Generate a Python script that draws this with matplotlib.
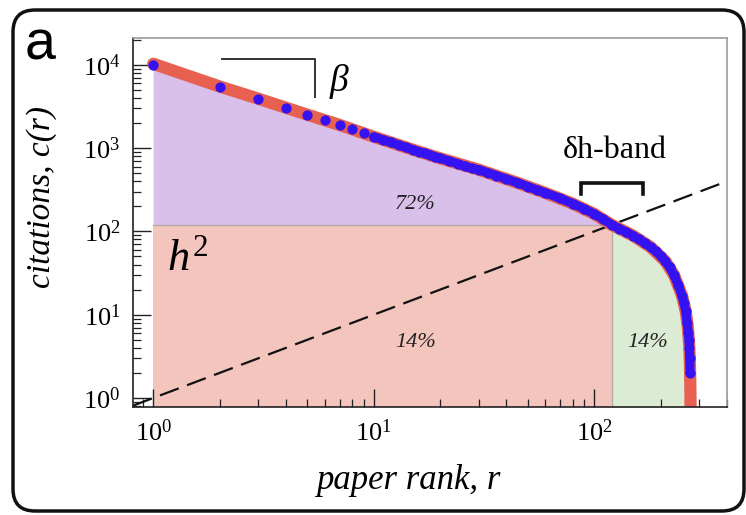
import numpy as np
import matplotlib
matplotlib.use("Agg")
import matplotlib.pyplot as plt
from matplotlib.patches import FancyBboxPatch
from matplotlib.ticker import LogLocator

plt.rcParams["font.family"] = ["Liberation Serif", "DejaVu Serif"]
plt.rcParams["mathtext.fontset"] = "custom"
plt.rcParams["mathtext.rm"] = "Liberation Serif"
plt.rcParams["mathtext.it"] = "Liberation Serif:italic"

# ranked papers and their citation counts
ranks = [1, 2, 3, 4, 5, 6, 7, 8, 9, 10,
         11, 12, 13, 14, 15, 16, 17, 18, 19, 20,
         22, 24, 26, 28, 30, 33, 36, 40, 45, 50,
         55, 60, 70, 80, 90, 100, 110, 120, 130, 140,
         150, 160, 170, 180, 190, 200, 210, 220, 230, 240,
         250, 255, 260, 264, 267, 269, 270, 271, 272]
cites = [10000, 5450, 3900, 3050, 2510, 2190, 1900, 1700, 1520, 1370,
         1260, 1170, 1090, 1020, 960, 910, 865, 825, 790, 755,
         700, 650, 605, 570, 550, 505, 468, 425, 382, 345,
         315, 290, 250, 215, 187, 162, 140, 120, 108, 98,
         89, 80, 72, 65, 58, 51, 44, 37, 30, 23,
         17, 14, 11, 8, 6, 5, 4, 3, 2]

# fitted rank-citation curve
fit_rank = [1, 2, 3, 5, 7, 10, 15, 20, 30, 45, 60, 80, 100, 120,
            150, 180, 210, 230, 250, 260, 266, 270, 272, 273, 274]
fit_cites = [10300, 5500, 3920, 2520, 1900, 1370, 960, 755, 550, 382,
             290, 215, 162, 120, 89, 65, 44, 30, 17, 11, 7, 4, 2.2, 1.2, 0.5]

h_index = 120
share_labels = ["72%", "14%", "14%"]

ranks = np.array(ranks, float)
cites = np.array(cites, float)
fit_rank = np.array(fit_rank, float)
fit_cites = np.array(fit_cites, float)

W, H = 746, 515
fig = plt.figure(figsize=(W / 100, H / 100), dpi=100)
ax = fig.add_axes([133 / W, (H - 407) / H, 594 / W, 369 / H])
ax.set_xscale("log")
ax.set_yscale("log")
xmin, xmax = 0.81, 400
ymin, ymax = 0.78, 21000
ax.set_xlim(xmin, xmax)
ax.set_ylim(ymin, ymax)

purple = "#d8c0eb"
pink = "#f3c5bc"
green = "#dcebd3"

# h^2 core block
ax.fill_between([1, h_index], ymin, h_index, color=pink, lw=0, zorder=1)
# excess citations above the h-core
m = ranks <= h_index
ax.fill_between(ranks[m], h_index, cites[m], color=purple, lw=0, zorder=1)
# tail beyond h
mt = fit_rank >= h_index
ax.fill_between(fit_rank[mt], ymin, fit_cites[mt], color=green, lw=0, zorder=1)
ax.plot([1, h_index], [h_index, h_index], color="#b8a8a8", lw=1.0, zorder=2)
ax.plot([h_index, h_index], [ymin, h_index], color="#b0b0a8", lw=1.0, zorder=2)

# c = r diagonal
diag = np.array([xmin, xmax])
ax.plot(diag, diag, color="#111111", lw=1.6, dashes=(9, 4), zorder=3)

# fit and data
ax.plot(fit_rank, fit_cites, color="#e8604f", lw=8.8, solid_capstyle="round",
        solid_joinstyle="round", zorder=4)
md = ranks >= 10
ax.plot(ranks[md], cites[md], color="#3412f2", lw=6.6, solid_capstyle="round", zorder=5)
ax.plot(ranks, cites, "o", color="#3412f2", ms=7.4, mec="none", zorder=6)

# axes styling
for side in ["top", "right"]:
    ax.spines[side].set_color("#9a9a9a")
for side in ["left", "bottom"]:
    ax.spines[side].set_color("#222222")
for s in ax.spines.values():
    s.set_linewidth(1.2)
    s.set_zorder(7)

ax.xaxis.set_major_locator(LogLocator(base=10, numticks=10))
ax.yaxis.set_major_locator(LogLocator(base=10, numticks=10))
ax.xaxis.set_minor_locator(LogLocator(base=10, subs=np.arange(2, 10), numticks=20))
ax.yaxis.set_minor_locator(LogLocator(base=10, subs=np.arange(2, 10), numticks=20))
ax.tick_params(which="major", direction="in", length=13, width=1.0, color="#222222",
               labelsize=19, pad=9, top=False, right=False)
ax.tick_params(which="minor", direction="in", length=6, width=0.9, color="#222222",
               top=False, right=False)

ax.set_xlabel("paper rank, r", fontsize=25, style="italic")
ax.set_ylabel("citations, c(r)", fontsize=24, style="italic")
ax.xaxis.set_label_coords(0.463, -0.155)
ax.yaxis.set_label_coords(-0.128, 0.57)

# annotations
ta = ax.transAxes
ax.plot([0.150, 0.307, 0.307], [0.944, 0.944, 0.841], color="#333333", lw=1.4,
        transform=ta, zorder=8)
ax.text(0.348, 0.881, r"$\beta$", transform=ta, fontsize=27, ha="center", va="center",
        zorder=8)
ax.text(0.811, 0.675, "δh-band", transform=ta, fontsize=23, ha="center",
        va="baseline", zorder=8)
ax.plot([0.754, 0.754, 0.859, 0.859], [0.577, 0.607, 0.607, 0.577], color="#111111",
        lw=2.6, transform=ta, solid_joinstyle="miter", zorder=8)
ax.text(0.057, 0.371, r"$h^2$", transform=ta, fontsize=32, ha="left",
        va="baseline", zorder=8)
pct_pos = [(0.475, 0.550), (0.475, 0.176), (0.867, 0.176)]
for lab, (px, py) in zip(share_labels, pct_pos):
    ax.text(px, py, lab, transform=ta, fontsize=16, style="italic", ha="center",
            va="center", color="#222222", zorder=8)

# panel frame and letter
frame = FancyBboxPatch((0.13, 0.04), 7.31, 5.01,
                       boxstyle="round,pad=0,rounding_size=0.22",
                       transform=fig.dpi_scale_trans, fill=False,
                       ec="#111111", lw=2.5)
fig.add_artist(frame)
fig.text(40 / W, 1 - 46 / H, "a", family="Liberation Sans", fontsize=40,
         ha="center", va="center")

fig.savefig("out.png", dpi=100)
